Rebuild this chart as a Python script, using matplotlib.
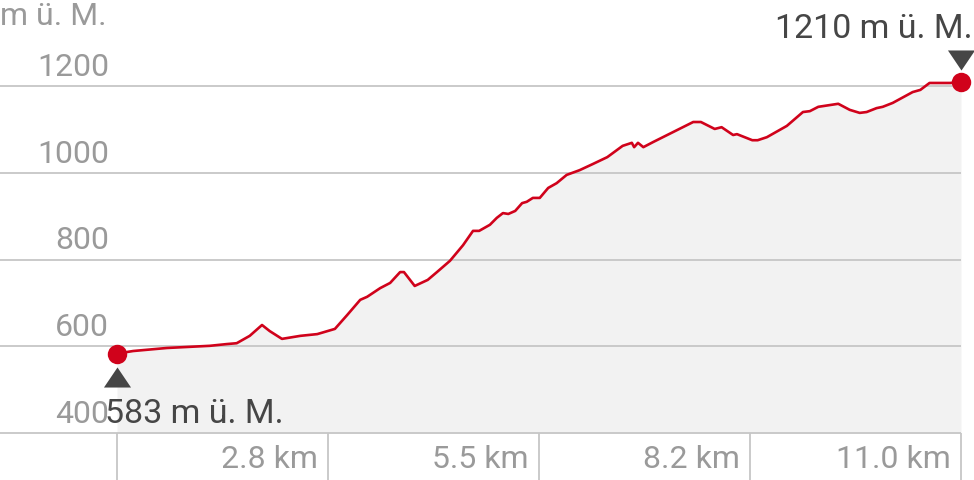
import matplotlib
matplotlib.use("Agg")
import matplotlib.pyplot as plt
from matplotlib.transforms import offset_copy
from matplotlib.path import Path

plt.rcParams['font.family'] = ['Roboto', 'DejaVu Sans']

# Distance (km) and elevation (m ü. M.)
distance_km = [0.00, 0.21, 0.65, 1.21, 1.43, 1.56, 1.73, 1.89, 1.99, 2.15, 2.39, 2.61,
               2.84, 3.00, 3.17, 3.26, 3.43, 3.56, 3.69, 3.74, 3.88, 4.05, 4.17, 4.34,
               4.51, 4.64, 4.72, 4.86, 4.95, 5.03, 5.10, 5.19, 5.28, 5.34, 5.42, 5.51,
               5.62, 5.73, 5.86, 6.03, 6.20, 6.39, 6.59, 6.71, 6.74, 6.79, 6.86, 6.99,
               7.25, 7.51, 7.61, 7.79, 7.88, 8.03, 8.08, 8.28, 8.35, 8.47, 8.73, 8.94,
               9.03, 9.14, 9.40, 9.55, 9.68, 9.77, 9.90, 9.98, 10.11, 10.37, 10.47, 10.59,
               10.69, 10.86, 11.00]
elevation_m = [583, 589, 596, 601, 605, 607, 624, 649, 635, 617, 624, 628,
               640, 672, 707, 714, 734, 746, 771, 771, 739, 753, 771, 797,
               833, 866, 866, 880, 896, 907, 905, 912, 930, 933, 942, 942,
               965, 976, 995, 1006, 1020, 1036, 1062, 1069, 1059, 1069, 1059, 1071,
               1094, 1117, 1117, 1101, 1105, 1087, 1089, 1075, 1075, 1082, 1108, 1140,
               1142, 1152, 1159, 1145, 1138, 1140, 1149, 1152, 1161, 1186, 1191, 1207,
               1207, 1207, 1210]

y_ticks = [400, 600, 800, 1000, 1200]
x_ticks = [0.0, 2.75, 5.5, 8.25, 11.0]
x_tick_labels = ["", "2.8 km", "5.5 km", "8.2 km", "11.0 km"]
unit_label = "m ü. M."
start_label = "583 m ü. M."
end_label = "1210 m ü. M."

RED = "#d0021b"
GRID = "#c6c6c6"
FILL = "#f2f2f2"
LABEL = "#9a9a9a"
DARK = "#464646"
FS_GREY = 23
FS_DARK = 24.5

W, H = 974, 480
fig = plt.figure(figsize=(W / 100, H / 100), dpi=100)
ax = fig.add_axes([0, 0, 1, 1])
ax.set_axis_off()

# pixel scale
x0_px, x1_px = 117, 961
px_per_km = (x1_px - x0_px) / (x_ticks[-1] - x_ticks[0])
y400_px, y1200_px = 433, 86
px_per_m = (y400_px - y1200_px) / (1200 - 400)
ax.set_xlim(x_ticks[0] - x0_px / px_per_km, x_ticks[-1] + (W - x1_px) / px_per_km)
ax.set_ylim(400 - (H - y400_px) / px_per_m, 400 + y400_px / px_per_m)
xmin = ax.get_xlim()[0]
ymin = ax.get_ylim()[0]

def off(dx, dy):
    return offset_copy(ax.transData, fig=fig, x=dx, y=dy, units='dots')

# fill
ax.fill_between(distance_km, elevation_m, y_ticks[0], color=FILL, lw=0, zorder=1)

# gridlines
for yv in y_ticks:
    ax.hlines(yv, xmin, x_ticks[-1], color=GRID, lw=1.3, zorder=2)
    ax.text(x_ticks[0], yv, f"{yv}", transform=off(-8, 10), ha='right', va='baseline',
            fontsize=FS_GREY, color=LABEL, zorder=3)

# x ticks
for xv, lab in zip(x_ticks, x_tick_labels):
    ax.vlines(xv, ymin, y_ticks[0], color=GRID, lw=1.3, zorder=2)
    if lab:
        ax.text(xv, y_ticks[0], lab, transform=off(-10, -35), ha='right', va='baseline',
                fontsize=FS_GREY, color=LABEL, zorder=3)

# profile line
ax.plot(distance_km, elevation_m, color=RED, lw=1.9, zorder=4, solid_joinstyle='round')

# endpoints
ax.plot([distance_km[0], distance_km[-1]], [elevation_m[0], elevation_m[-1]], 'o',
        color=RED, ms=14, mec='none', zorder=5)

up_tri = Path([(-0.675, -0.5), (0.675, -0.5), (0.0, 0.5), (-0.675, -0.5)],
              [Path.MOVETO, Path.LINETO, Path.LINETO, Path.CLOSEPOLY])
down_tri = Path([(-0.675, 0.5), (0.675, 0.5), (0.0, -0.5), (-0.675, 0.5)],
                [Path.MOVETO, Path.LINETO, Path.LINETO, Path.CLOSEPOLY])
ax.plot([distance_km[0]], [elevation_m[0]], marker=up_tri, ms=19.5, color=DARK, mec='none',
        transform=off(0, -23), zorder=5)
ax.plot([distance_km[-1]], [elevation_m[-1]], marker=down_tri, ms=19.5, color=DARK, mec='none',
        transform=off(0, 22), zorder=5)

ax.text(distance_km[0], elevation_m[0], start_label, transform=off(-12, -69), ha='left',
        va='baseline', fontsize=FS_DARK, color=DARK, zorder=6)
ax.text(distance_km[-1], elevation_m[-1], end_label, transform=off(12, 44), ha='right',
        va='baseline', fontsize=FS_DARK, color=DARK, zorder=6)

fig.text(0 / W, 1 - 25 / H, unit_label, ha='left', va='baseline', fontsize=FS_GREY, color=LABEL)

fig.savefig("out.png", dpi=100)
